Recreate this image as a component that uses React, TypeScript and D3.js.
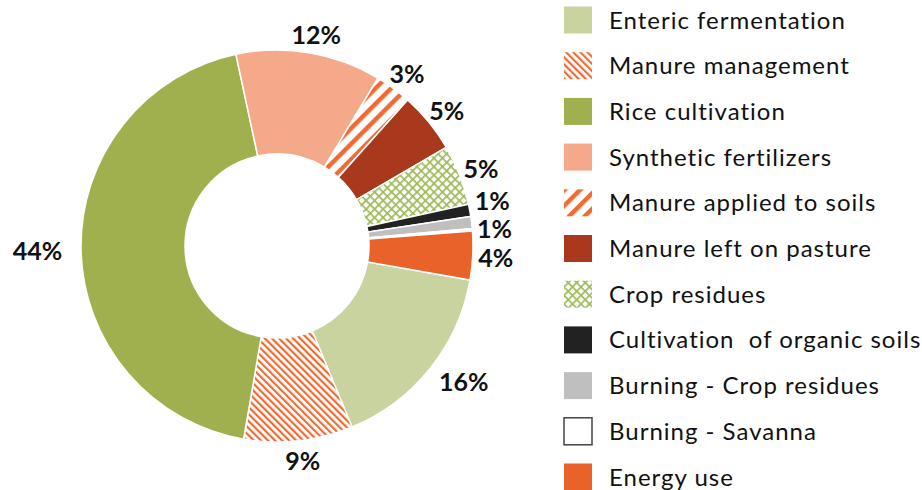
import React from "react";
import * as d3 from "d3";

// shares of agricultural emissions (%)
const categories = [
  "Enteric fermentation",
  "Manure management",
  "Rice cultivation",
  "Synthetic fertilizers",
  "Manure applied to soils",
  "Manure left on pasture",
  "Crop residues",
  "Cultivation  of organic soils",
  "Burning - Crop residues",
  "Burning - Savanna",
  "Energy use",
];
const shares = [16, 9, 44, 12, 3, 5, 5, 1, 1, 0.2, 4];
const fills = [
  "#C9D39F",
  "url(#pMgmt)",
  "#A1B04F",
  "#F4A98A",
  "url(#pApplied)",
  "#A8391C",
  "url(#pCrop)",
  "#222222",
  "#BFBFBF",
  "#FFFFFF",
  "#E8622A",
];

const W = 922;
const H = 490;
const cx = 277;
const cy = 246;
const R = 196;
const r0 = 92;
const START = (100 * Math.PI) / 180;
const labelFont = 25;

export default function App() {
  const pie = d3
    .pie<number>()
    .sort(null)
    .value((d) => d)
    .startAngle(START)
    .endAngle(START + 2 * Math.PI);
  const arcs = pie(shares);
  const arc = d3.arc<d3.PieArcDatum<number>>().innerRadius(r0).outerRadius(R);

  // outside-end labels, then push overlapping right-side ones apart
  const labels = arcs
    .map((a, i) => {
      const m = (a.startAngle + a.endAngle) / 2;
      const txt = shares[i] >= 0.5 ? `${Math.round(shares[i])}%` : "";
      const w = txt.length * labelFont * 0.52;
      const h = labelFont * 0.75;
      const rr = R + 10;
      // big slices get pushed a little further sideways, like Excel does
      const extra = shares[i] > 8 ? 14 : 0;
      return {
        i,
        txt,
        x: cx + rr * Math.sin(m) + (w / 2 + extra) * Math.sin(m),
        y: cy - rr * Math.cos(m) - (h / 2) * Math.cos(m),
      };
    })
    .filter((l) => l.txt);

  const right = labels.filter((l) => l.x > cx).sort((a, b) => a.y - b.y);
  const gap = 28;
  for (let k = 0; k < 6; k++) {
    for (let j = 1; j < right.length; j++) {
      const d = right[j].y - right[j - 1].y;
      if (d < gap) {
        const s = (gap - d) / 2;
        right[j].y += s;
        right[j - 1].y -= s;
      }
    }
  }

  const ly = d3.scalePoint<string>().domain(categories).range([20, 477]);

  return (
    <svg
      width={W}
      height={H}
      style={{ position: "absolute", left: 0, top: 0, background: "#fff" }}
    >
      <defs>
        <pattern id="pMgmt" width="5" height="5" patternUnits="userSpaceOnUse" patternTransform="rotate(-45)">
          <rect width="5" height="5" fill="#fff" />
          <rect width="2.2" height="5" fill="#EE6C33" />
        </pattern>
        <pattern id="pApplied" width="11" height="11" patternUnits="userSpaceOnUse" patternTransform="rotate(45)">
          <rect width="11" height="11" fill="#fff" />
          <rect width="4.5" height="11" fill="#EE6C33" />
        </pattern>
        <pattern id="pCrop" width="6" height="6" patternUnits="userSpaceOnUse" patternTransform="rotate(45)">
          <rect width="6" height="6" fill="#9DBA58" />
          <rect x="1.7" y="1.7" width="4.3" height="4.3" fill="#fff" />
        </pattern>
      </defs>

      <g transform={`translate(${cx},${cy})`}>
        {arcs.map((a, i) => (
          <path key={i} d={arc(a) ?? ""} fill={fills[i]} stroke="#fff" strokeWidth={1.5} />
        ))}
      </g>

      <g fontFamily="Lato, 'Open Sans', sans-serif" fontWeight="bold" fontSize={labelFont} fill="#111">
        {labels.map((l) => (
          <text key={l.i} x={l.x} y={l.y} textAnchor="middle" dominantBaseline="central">
            {l.txt}
          </text>
        ))}
      </g>

      <g fontFamily="Lato, 'Open Sans', sans-serif" fontSize={24} letterSpacing={1} fill="#111">
        {categories.map((c, i) => (
          <g key={c} transform={`translate(564,${ly(c)})`}>
            <rect
              x={0}
              y={-13.5}
              width={28}
              height={27}
              fill={fills[i]}
              stroke={i === 9 ? "#444" : "none"}
              strokeWidth={1.5}
            />
            <text x={45} y={-1} dominantBaseline="central" style={{ whiteSpace: "pre" }}>
              {c}
            </text>
          </g>
        ))}
      </g>
    </svg>
  );
}
